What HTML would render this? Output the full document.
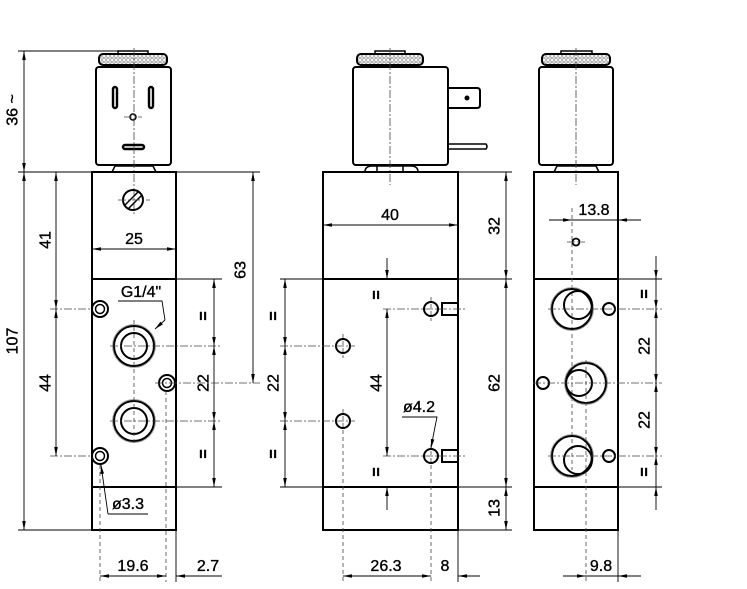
<!DOCTYPE html>
<html><head><meta charset="utf-8"><style>
html,body{margin:0;padding:0;background:#fff;}
svg{display:block;}
text{font-family:"Liberation Sans",Arial,sans-serif;font-size:16px;fill:#000;stroke:#000;stroke-width:0.35;}
.o{fill:none;stroke:#000;stroke-width:2;}
.d{fill:none;stroke:#000;stroke-width:0.9;}
.dd{fill:none;stroke:#444;stroke-width:0.8;stroke-dasharray:8 2 2 2;}
.ds{fill:none;stroke:#444;stroke-width:0.8;stroke-dasharray:4 3;}
.g{fill:none;stroke:#999;stroke-width:0.8;}
</style></head><body>
<svg width="747" height="589" viewBox="0 0 747 589" xmlns="http://www.w3.org/2000/svg">
<defs>
<marker id="a" viewBox="0 0 10 4" refX="10" refY="2" markerWidth="9" markerHeight="3.6" orient="auto-start-reverse" markerUnits="userSpaceOnUse"><path d="M0,0L10,2L0,4z" fill="#000"/></marker>
<pattern id="h" width="4" height="4" patternUnits="userSpaceOnUse"><rect width="4" height="4" fill="#fff"/><circle cx="2" cy="2" r="1.3" fill="none" stroke="#777" stroke-width="0.7"/></pattern>
</defs>

<!-- ================= LEFT VIEW ================= -->
<rect x="118" y="51" width="30" height="4" class="o" style="stroke-width:1.5"/>
<rect x="99" y="54" width="68" height="11" rx="4" fill="url(#h)" stroke="#000" stroke-width="2"/>
<rect x="96" y="67" width="75" height="98" rx="3" class="o"/>
<path d="M112,172 L115,166 L153,166 L156,172" class="o" style="stroke-width:1.5"/>
<rect x="113" y="87" width="4" height="21" rx="2" class="o" style="stroke-width:2.4"/>
<rect x="149" y="87" width="4" height="21" rx="2" class="o" style="stroke-width:2.4"/>
<circle cx="133" cy="117" r="3" class="o" style="stroke-width:1.5"/>
<rect x="123" y="145" width="21" height="4" rx="2" class="o" style="stroke-width:2.4"/>
<line x1="134" y1="48" x2="134" y2="215" class="dd"/>
<line x1="124" y1="117" x2="142" y2="117" class="dd"/>

<rect x="92" y="172" width="84" height="358" class="o"/>
<line x1="92" y1="279" x2="176" y2="279" class="o"/>
<line x1="92" y1="487" x2="176" y2="487" class="o"/>
<circle cx="133" cy="200" r="10" class="o"/>
<line x1="125" y1="205" x2="139" y2="191" stroke="#000" stroke-width="1.5"/>
<line x1="128" y1="209" x2="142" y2="195" stroke="#000" stroke-width="1.5"/>
<line x1="118" y1="200" x2="150" y2="200" class="dd"/>

<!-- ports -->
<circle cx="134" cy="346" r="21.5" class="g"/>
<circle cx="134" cy="346" r="20" class="o"/>
<circle cx="134" cy="346" r="13" class="o"/>
<circle cx="134" cy="421" r="21.5" class="g"/>
<circle cx="134" cy="421" r="20" class="o"/>
<circle cx="134" cy="421" r="13" class="o"/>
<line x1="134" y1="320" x2="134" y2="445" class="ds"/>
<!-- small holes -->
<circle cx="100" cy="309" r="8" class="o"/><circle cx="100" cy="309" r="4.5" class="o" style="stroke-width:1.5"/>
<circle cx="100" cy="456" r="8" class="o"/><circle cx="100" cy="456" r="4.5" class="o" style="stroke-width:1.5"/>
<circle cx="167" cy="383" r="8" class="o"/><circle cx="167" cy="383" r="4.5" class="o" style="stroke-width:1.5"/>

<!-- left view dims -->
<line x1="18" y1="51" x2="118" y2="51" class="d"/>
<line x1="18" y1="172" x2="92" y2="172" class="d"/>
<line x1="18" y1="530" x2="92" y2="530" class="d"/>
<line x1="24" y1="51" x2="24" y2="172" class="d" marker-start="url(#a)" marker-end="url(#a)"/>
<line x1="24" y1="172" x2="24" y2="530" class="d" marker-start="url(#a)" marker-end="url(#a)"/>
<text transform="rotate(-90 13 110)" x="13" y="110" text-anchor="middle" dominant-baseline="central">36 ~</text>
<text transform="rotate(-90 13 341)" x="13" y="341" text-anchor="middle" dominant-baseline="central">107</text>

<line x1="50" y1="309" x2="92" y2="309" class="dd"/>
<line x1="50" y1="456" x2="92" y2="456" class="dd"/>
<line x1="56" y1="172" x2="56" y2="309" class="d" marker-start="url(#a)" marker-end="url(#a)"/>
<line x1="56" y1="309" x2="56" y2="456" class="d" marker-start="url(#a)" marker-end="url(#a)"/>
<text transform="rotate(-90 46 240)" x="46" y="240" text-anchor="middle" dominant-baseline="central">41</text>
<text transform="rotate(-90 46 383)" x="46" y="383" text-anchor="middle" dominant-baseline="central">44</text>

<line x1="92" y1="249" x2="176" y2="249" class="d" marker-start="url(#a)" marker-end="url(#a)"/>
<text x="134" y="244" text-anchor="middle">25</text>

<line x1="176" y1="279" x2="222" y2="279" class="d"/>
<line x1="176" y1="487" x2="222" y2="487" class="d"/>
<line x1="110" y1="346" x2="222" y2="346" class="dd"/>
<line x1="110" y1="421" x2="222" y2="421" class="dd"/>
<line x1="214" y1="279" x2="214" y2="346" class="d" marker-start="url(#a)" marker-end="url(#a)"/>
<line x1="214" y1="346" x2="214" y2="421" class="d" marker-start="url(#a)" marker-end="url(#a)"/>
<line x1="214" y1="421" x2="214" y2="487" class="d" marker-start="url(#a)" marker-end="url(#a)"/>
<text transform="rotate(-90 204 316)" x="204" y="316" text-anchor="middle" dominant-baseline="central" font-weight="bold">=</text>
<text transform="rotate(-90 204 383)" x="204" y="383" text-anchor="middle" dominant-baseline="central">22</text>
<text transform="rotate(-90 204 454)" x="204" y="454" text-anchor="middle" dominant-baseline="central" font-weight="bold">=</text>

<line x1="176" y1="172" x2="260" y2="172" class="d"/>
<line x1="155" y1="383" x2="260" y2="383" class="dd"/>
<line x1="253" y1="172" x2="253" y2="383" class="d" marker-start="url(#a)" marker-end="url(#a)"/>
<text transform="rotate(-90 241 270)" x="241" y="270" text-anchor="middle" dominant-baseline="central">63</text>

<!-- G1/4 leader -->
<text x="141" y="297" text-anchor="middle">G1/4"</text>
<polyline points="118,301 162,301 165,320" class="d"/>
<line x1="165" y1="320" x2="155" y2="329" class="d" marker-end="url(#a)"/>
<!-- ø3.3 leader -->
<line x1="108" y1="514" x2="101" y2="465" class="d" marker-end="url(#a)"/>
<line x1="108" y1="514" x2="148" y2="514" class="d"/>
<text x="128" y="509" text-anchor="middle">ø3.3</text>

<!-- bottom dims left -->
<line x1="100" y1="465" x2="100" y2="582" class="ds"/>
<line x1="166" y1="391" x2="166" y2="582" class="ds"/>
<line x1="176" y1="530" x2="176" y2="582" class="d"/>
<line x1="100" y1="576" x2="166" y2="576" class="d" marker-start="url(#a)" marker-end="url(#a)"/>
<line x1="222" y1="576" x2="176" y2="576" class="d" marker-end="url(#a)"/>
<text x="133" y="571" text-anchor="middle">19.6</text>
<text x="208" y="571" text-anchor="middle">2.7</text>

<!-- ================= MIDDLE VIEW ================= -->
<rect x="375" y="51" width="30" height="4" class="o" style="stroke-width:1.5"/>
<rect x="357" y="54" width="66" height="11" rx="4" fill="url(#h)" stroke="#000" stroke-width="2"/>
<rect x="353" y="67" width="95" height="98" rx="3" class="o"/>
<path d="M448,88 L477,88 Q480,88 480,91 L480,105 Q480,108 477,108 L448,108" class="o"/>
<circle cx="467" cy="98" r="2.5" fill="#000"/>
<path d="M448,144 L486,144 Q488,146.5 486,149 L448,149" class="o" style="stroke-width:1.5"/>
<path d="M365,172 Q365,166 372,166 L411,166 Q418,166 418,172" class="o" style="stroke-width:1.5"/>
<line x1="377" y1="166" x2="377" y2="172" stroke="#000" stroke-width="1.5"/>
<line x1="403" y1="166" x2="403" y2="172" stroke="#000" stroke-width="1.5"/>
<line x1="390" y1="48" x2="390" y2="185" class="dd"/>

<rect x="323" y="172" width="135" height="358" class="o"/>
<line x1="323" y1="279" x2="458" y2="279" class="o"/>
<line x1="323" y1="487" x2="458" y2="487" class="o"/>

<line x1="323" y1="225" x2="458" y2="225" class="d" marker-start="url(#a)" marker-end="url(#a)"/>
<text x="390" y="220" text-anchor="middle">40</text>

<line x1="458" y1="172" x2="512" y2="172" class="d"/>
<line x1="458" y1="279" x2="512" y2="279" class="d"/>
<line x1="458" y1="487" x2="512" y2="487" class="d"/>
<line x1="458" y1="530" x2="512" y2="530" class="d"/>
<line x1="506" y1="172" x2="506" y2="279" class="d" marker-start="url(#a)" marker-end="url(#a)"/>
<line x1="506" y1="279" x2="506" y2="487" class="d" marker-start="url(#a)" marker-end="url(#a)"/>
<line x1="506" y1="487" x2="506" y2="530" class="d" marker-start="url(#a)" marker-end="url(#a)"/>
<text transform="rotate(-90 495 226)" x="495" y="226" text-anchor="middle" dominant-baseline="central">32</text>
<text transform="rotate(-90 495 383)" x="495" y="383" text-anchor="middle" dominant-baseline="central">62</text>
<text transform="rotate(-90 495 508)" x="495" y="508" text-anchor="middle" dominant-baseline="central">13</text>

<!-- holes -->
<circle cx="343" cy="346" r="7" class="o"/>
<circle cx="343" cy="421" r="7" class="o"/>
<line x1="343" y1="334" x2="343" y2="358" class="ds"/>
<line x1="343" y1="409" x2="343" y2="582" class="ds"/>
<circle cx="431" cy="309" r="7" class="o"/>
<circle cx="431" cy="456" r="7" class="o"/>
<rect x="442" y="303" width="16" height="12" class="o"/>
<rect x="442" y="450" width="16" height="12" class="o"/>
<line x1="431" y1="297" x2="431" y2="321" class="ds"/>
<line x1="431" y1="444" x2="431" y2="582" class="ds"/>
<line x1="383" y1="309" x2="465" y2="309" class="dd"/>
<line x1="383" y1="456" x2="465" y2="456" class="dd"/>

<line x1="280" y1="279" x2="323" y2="279" class="d"/>
<line x1="280" y1="487" x2="323" y2="487" class="d"/>
<line x1="280" y1="346" x2="355" y2="346" class="dd"/>
<line x1="280" y1="421" x2="355" y2="421" class="dd"/>
<line x1="285" y1="279" x2="285" y2="346" class="d" marker-start="url(#a)" marker-end="url(#a)"/>
<line x1="285" y1="346" x2="285" y2="421" class="d" marker-start="url(#a)" marker-end="url(#a)"/>
<line x1="285" y1="421" x2="285" y2="487" class="d" marker-start="url(#a)" marker-end="url(#a)"/>
<text transform="rotate(-90 274 316)" x="274" y="316" text-anchor="middle" dominant-baseline="central" font-weight="bold">=</text>
<text transform="rotate(-90 274 383)" x="274" y="383" text-anchor="middle" dominant-baseline="central">22</text>
<text transform="rotate(-90 274 454)" x="274" y="454" text-anchor="middle" dominant-baseline="central" font-weight="bold">=</text>

<!-- 44 middle -->
<line x1="387" y1="258" x2="387" y2="279" class="d" marker-end="url(#a)"/>
<line x1="387" y1="309" x2="387" y2="456" class="d" marker-start="url(#a)" marker-end="url(#a)"/>
<line x1="387" y1="510" x2="387" y2="487" class="d" marker-end="url(#a)"/>
<text transform="rotate(-90 377 295)" x="377" y="295" text-anchor="middle" dominant-baseline="central" font-weight="bold">=</text>
<text transform="rotate(-90 377 383)" x="377" y="383" text-anchor="middle" dominant-baseline="central">44</text>
<text transform="rotate(-90 377 472)" x="377" y="472" text-anchor="middle" dominant-baseline="central" font-weight="bold">=</text>

<text x="419" y="412" text-anchor="middle">ø4.2</text>
<polyline points="402,417 437,417 434,432" class="d"/>
<line x1="434" y1="432" x2="431" y2="448" class="d" marker-end="url(#a)"/>

<line x1="458" y1="530" x2="458" y2="582" class="d"/>
<line x1="343" y1="576" x2="431" y2="576" class="d" marker-start="url(#a)" marker-end="url(#a)"/>
<line x1="480" y1="576" x2="458" y2="576" class="d" marker-end="url(#a)"/>
<text x="386" y="571" text-anchor="middle">26.3</text>
<text x="445" y="571" text-anchor="middle">8</text>

<!-- ================= RIGHT VIEW ================= -->
<rect x="561" y="51" width="31" height="4" class="o" style="stroke-width:1.5"/>
<rect x="542" y="54" width="68" height="11" rx="4" fill="url(#h)" stroke="#000" stroke-width="2"/>
<rect x="539" y="67" width="74" height="98" rx="3" class="o"/>
<path d="M554,172 L557,166 L596,166 L599,172" class="o" style="stroke-width:1.5"/>
<line x1="576" y1="48" x2="576" y2="185" class="dd"/>

<rect x="534" y="172" width="84" height="358" class="o"/>
<line x1="534" y1="279" x2="618" y2="279" class="o"/>
<line x1="534" y1="487" x2="618" y2="487" class="o"/>

<line x1="549" y1="220" x2="572" y2="220" class="d" marker-end="url(#a)"/>
<line x1="572" y1="220" x2="618" y2="220" class="d"/>
<line x1="641" y1="220" x2="618" y2="220" class="d" marker-end="url(#a)"/>
<text x="594" y="215" text-anchor="middle">13.8</text>
<line x1="572" y1="208" x2="572" y2="470" class="ds"/>
<circle cx="576" cy="242" r="3.5" class="o" style="stroke-width:1.8"/>
<line x1="567" y1="242" x2="585" y2="242" class="dd"/>

<!-- ports -->
<circle cx="572" cy="309" r="21.5" class="g"/>
<circle cx="572" cy="309" r="20" class="o"/>
<circle cx="578" cy="305" r="14" class="o"/>
<circle cx="586" cy="383" r="21.5" class="g"/>
<circle cx="586" cy="383" r="20" class="o"/>
<circle cx="579" cy="383" r="13" class="o"/>
<circle cx="572" cy="456" r="21.5" class="g"/>
<circle cx="572" cy="456" r="20" class="o"/>
<circle cx="578" cy="460" r="14" class="o"/>
<circle cx="609" cy="309" r="6" class="o"/>
<circle cx="543" cy="383" r="6" class="o"/>
<circle cx="609" cy="456" r="6" class="o"/>
<line x1="586" y1="360" x2="586" y2="582" class="ds"/>
<line x1="548" y1="309" x2="662" y2="309" class="dd"/>
<line x1="533" y1="383" x2="662" y2="383" class="dd"/>
<line x1="548" y1="456" x2="662" y2="456" class="dd"/>

<line x1="618" y1="279" x2="662" y2="279" class="d"/>
<line x1="618" y1="487" x2="662" y2="487" class="d"/>
<line x1="656" y1="256" x2="656" y2="279" class="d" marker-end="url(#a)"/>
<line x1="656" y1="279" x2="656" y2="309" class="d" marker-end="url(#a)"/>
<line x1="656" y1="309" x2="656" y2="383" class="d" marker-start="url(#a)" marker-end="url(#a)"/>
<line x1="656" y1="383" x2="656" y2="456" class="d" marker-start="url(#a)" marker-end="url(#a)"/>
<line x1="656" y1="487" x2="656" y2="456" class="d" marker-end="url(#a)"/>
<line x1="656" y1="510" x2="656" y2="487" class="d" marker-end="url(#a)"/>
<text transform="rotate(-90 645 294)" x="645" y="294" text-anchor="middle" dominant-baseline="central" font-weight="bold">=</text>
<text transform="rotate(-90 645 346)" x="645" y="346" text-anchor="middle" dominant-baseline="central">22</text>
<text transform="rotate(-90 645 420)" x="645" y="420" text-anchor="middle" dominant-baseline="central">22</text>
<text transform="rotate(-90 645 472)" x="645" y="472" text-anchor="middle" dominant-baseline="central" font-weight="bold">=</text>

<line x1="618" y1="530" x2="618" y2="582" class="d"/>
<line x1="563" y1="576" x2="586" y2="576" class="d" marker-end="url(#a)"/>
<line x1="586" y1="576" x2="618" y2="576" class="d"/>
<line x1="641" y1="576" x2="618" y2="576" class="d" marker-end="url(#a)"/>
<text x="601" y="571" text-anchor="middle">9.8</text>
</svg>
</body></html>
